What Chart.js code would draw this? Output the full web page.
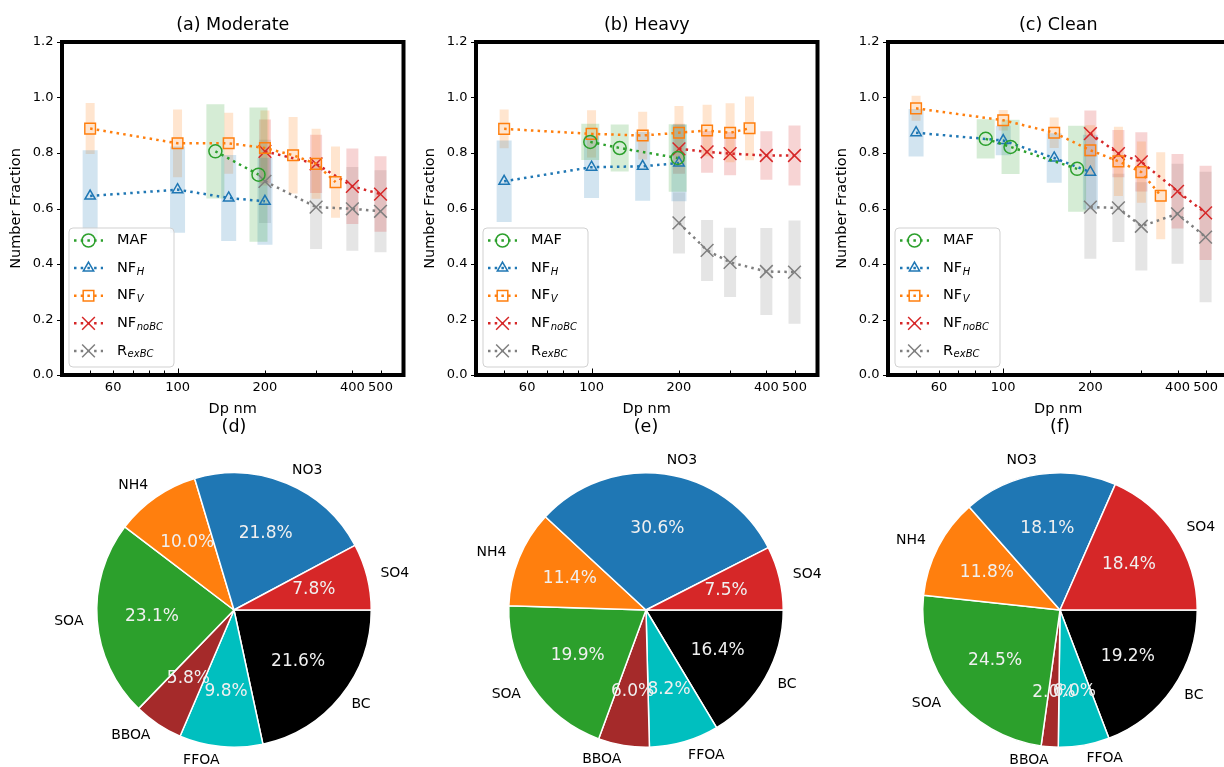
<!DOCTYPE html>
<html><head><meta charset="utf-8">
<script src="https://cdn.jsdelivr.net/npm/chart.js@4.4.1/dist/chart.umd.min.js"></script>
<style>
html,body{margin:0;padding:0;background:#fff;overflow:hidden;width:1224px;height:767px;position:relative}
canvas{position:absolute}
</style></head><body>
<canvas id="ca" width="414" height="418" style="left:0px;top:0px"></canvas>
<canvas id="cb" width="414" height="418" style="left:414px;top:0px"></canvas>
<canvas id="cc" width="413" height="418" style="left:826px;top:0px"></canvas>
<canvas id="pd" width="380" height="357" style="left:44px;top:410px"></canvas>
<canvas id="pe" width="380" height="357" style="left:456px;top:410px"></canvas>
<canvas id="pf" width="380" height="357" style="left:870px;top:410px"></canvas>
<script>
// ---------- axis ticks ----------
const xTickLabels = [60, 100, 200, 400, 500];
const xMinorTicks = [40, 50, 60, 70, 80, 90, 200, 300, 400, 500, 600];
const xMajorTicks = [100];
const yTicks = [0, 0.2, 0.4, 0.6, 0.8, 1.0, 1.2];

// ---------- (a) Moderate ----------
const a_MAF_x = [135, 190];                 const a_MAF_y = [0.806, 0.722];              const a_MAF_e = [0.170, 0.242];
const a_NFH_x = [50, 100, 150, 200];        const a_NFH_y = [0.645, 0.668, 0.638, 0.626]; const a_NFH_e = [0.165, 0.155, 0.155, 0.157];
const a_NFV_x = [50, 100, 150, 200, 250, 300, 350];
const a_NFV_y = [0.888, 0.835, 0.835, 0.818, 0.792, 0.761, 0.695];
const a_NFV_e = [0.092, 0.122, 0.110, 0.135, 0.138, 0.126, 0.128];
const a_NOBC_x = [200, 300, 400, 500];      const a_NOBC_y = [0.806, 0.761, 0.680, 0.652]; const a_NOBC_e = [0.115, 0.105, 0.136, 0.136];
const a_REX_x = [200, 300, 400, 500];       const a_REX_y = [0.698, 0.605, 0.599, 0.590];  const a_REX_e = [0.150, 0.151, 0.151, 0.148];

// ---------- (b) Heavy ----------
const b_MAF_x = [99, 125, 198];             const b_MAF_y = [0.840, 0.818, 0.782];       const b_MAF_e = [0.065, 0.085, 0.122];
const b_NFH_x = [50, 100, 150, 200];        const b_NFH_y = [0.698, 0.749, 0.752, 0.764]; const b_NFH_e = [0.147, 0.111, 0.124, 0.138];
const b_NFV_x = [50, 100, 150, 200, 250, 300, 350];
const b_NFV_y = [0.887, 0.869, 0.863, 0.873, 0.881, 0.873, 0.889];
const b_NFV_e = [0.070, 0.085, 0.086, 0.096, 0.093, 0.106, 0.115];
const b_NOBC_x = [200, 250, 300, 400, 500]; const b_NOBC_y = [0.815, 0.804, 0.798, 0.791, 0.791]; const b_NOBC_e = [0.090, 0.075, 0.078, 0.087, 0.108];
const b_REX_x = [200, 250, 300, 400, 500];  const b_REX_y = [0.548, 0.449, 0.406, 0.373, 0.371];  const b_REX_e = [0.110, 0.110, 0.125, 0.157, 0.186];

// ---------- (c) Clean ----------
const c_MAF_x = [87, 106, 180];             const c_MAF_y = [0.851, 0.822, 0.743];       const c_MAF_e = [0.071, 0.098, 0.155];
const c_NFH_x = [50, 100, 150, 200];        const c_NFH_y = [0.873, 0.845, 0.782, 0.731]; const c_NFH_e = [0.086, 0.053, 0.089, 0.135];
const c_NFV_x = [50, 100, 150, 200, 250, 300, 350];
const c_NFV_y = [0.961, 0.918, 0.873, 0.810, 0.770, 0.731, 0.646];
const c_NFV_e = [0.045, 0.037, 0.055, 0.090, 0.125, 0.110, 0.157];
const c_NOBC_x = [200, 250, 300, 400, 500]; const c_NOBC_y = [0.870, 0.798, 0.768, 0.662, 0.584]; const c_NOBC_e = [0.083, 0.085, 0.107, 0.134, 0.170];
const c_REX_x = [200, 250, 300, 400, 500];  const c_REX_y = [0.605, 0.602, 0.536, 0.581, 0.497];  const c_REX_e = [0.186, 0.123, 0.159, 0.180, 0.235];

// ---------- pies ----------
const pieLabels = ['SO4', 'NO3', 'NH4', 'SOA', 'BBOA', 'FFOA', 'BC'];
const pieD = [7.8, 21.8, 10.0, 23.1, 5.8, 9.8, 21.6];
const pieE = [7.5, 30.6, 11.4, 19.9, 6.0, 8.2, 16.4];
const pieF = [18.4, 18.1, 11.8, 24.5, 2.0, 6.0, 19.2];
const pieColors = ['#d62728', '#1f77b4', '#ff7f0e', '#2ca02c', '#a52a2a', '#00bfbf', '#000000'];

// ---------- styles ----------
const SERIES = ['MAF', 'NFH', 'NFV', 'NOBC', 'REX'];
const STYLE = {
  MAF:  {color:'#2ca02c', band:'rgba(44,160,44,0.2)',   point:'circle',   radius:6.5, bar:18},
  NFH:  {color:'#1f77b4', band:'rgba(31,119,180,0.2)',  point:'triangle', radius:6,   bar:15},
  NFV:  {color:'#ff7f0e', band:'rgba(255,127,14,0.2)',  point:'rect',     radius:7.5, bar:9},
  NOBC: {color:'#d62728', band:'rgba(214,39,40,0.2)',   point:'crossRot', radius:9,   bar:12},
  REX:  {color:'#7f7f7f', band:'rgba(127,127,127,0.2)', point:'crossRot', radius:9,   bar:12}
};
const LEGEND_TEXT = {MAF:['MAF',''], NFH:['NF','H'], NFV:['NF','V'], NOBC:['NF','noBC'], REX:['R','exBC']};
const DASH = [2.5, 4.2];
const FONT = '"DejaVu Sans", sans-serif';

Chart.defaults.font.family = FONT;
Chart.defaults.color = '#000';

const PANEL_A = {MAF:[a_MAF_x,a_MAF_y,a_MAF_e], NFH:[a_NFH_x,a_NFH_y,a_NFH_e], NFV:[a_NFV_x,a_NFV_y,a_NFV_e], NOBC:[a_NOBC_x,a_NOBC_y,a_NOBC_e], REX:[a_REX_x,a_REX_y,a_REX_e]};
const PANEL_B = {MAF:[b_MAF_x,b_MAF_y,b_MAF_e], NFH:[b_NFH_x,b_NFH_y,b_NFH_e], NFV:[b_NFV_x,b_NFV_y,b_NFV_e], NOBC:[b_NOBC_x,b_NOBC_y,b_NOBC_e], REX:[b_REX_x,b_REX_y,b_REX_e]};
const PANEL_C = {MAF:[c_MAF_x,c_MAF_y,c_MAF_e], NFH:[c_NFH_x,c_NFH_y,c_NFH_e], NFV:[c_NFV_x,c_NFV_y,c_NFV_e], NOBC:[c_NOBC_x,c_NOBC_y,c_NOBC_e], REX:[c_REX_x,c_REX_y,c_REX_e]};

function buildDatasets(P) {
  const ds = [];
  SERIES.forEach(k => {
    const [xs, ys] = P[k]; const st = STYLE[k];
    ds.push({
      label: k, data: xs.map((x, i) => ({x: x, y: ys[i]})),
      borderColor: st.color, borderWidth: 2.5, borderDash: DASH, borderCapStyle: 'butt',
      backgroundColor: 'rgba(0,0,0,0)', fill: false,
      pointStyle: st.point, pointRadius: st.radius, pointBorderWidth: 1.5,
      pointBorderColor: st.color, pointBackgroundColor: 'rgba(0,0,0,0)', order: 1
    });
  });
  SERIES.forEach(k => {
    const [xs, ys, es] = P[k]; const st = STYLE[k];
    const pts = [];
    xs.forEach((x, i) => { pts.push({x: x, y: ys[i] - es[i]}, {x: x, y: ys[i] + es[i]}, {x: x, y: null}); });
    ds.push({
      label: k + ' range', data: pts, borderColor: st.band, borderWidth: st.bar,
      borderCapStyle: 'butt', pointRadius: 0, spanGaps: false, fill: false, order: 5
    });
  });
  return ds;
}

function line(ctx, x1, y1, x2, y2) { ctx.beginPath(); ctx.moveTo(x1, y1); ctx.lineTo(x2, y2); ctx.stroke(); }

const framePlugin = {
  id: 'frame',
  afterDatasetsDraw(chart) {
    const ctx = chart.ctx, a = chart.chartArea, xs = chart.scales.x, ys = chart.scales.y;
    ctx.save();
    ctx.strokeStyle = '#000'; ctx.lineWidth = 1;
    yTicks.forEach(v => { const py = Math.round(ys.getPixelForValue(v)) + 0.5; line(ctx, a.left - 5, py, a.left, py); });
    xMinorTicks.forEach(v => { const px = Math.round(xs.getPixelForValue(v)) + 0.5; line(ctx, px, a.bottom, px, a.bottom - 4.5); });
    xMajorTicks.forEach(v => { const px = Math.round(xs.getPixelForValue(v)) + 0.5; line(ctx, px, a.bottom, px, a.bottom - 6.5); });
    ctx.lineWidth = 4;
    ctx.strokeRect(a.left, a.top, a.right - a.left, a.bottom - a.top);
    ctx.restore();
  },
  afterDraw(chart) {
    const ctx = chart.ctx, a = chart.chartArea;
    const bw = 105, bh = 139, bx = a.left + 7, by = a.bottom - 8 - bh;
    ctx.save();
    const r = 4;
    ctx.beginPath();
    ctx.moveTo(bx + r, by); ctx.lineTo(bx + bw - r, by); ctx.quadraticCurveTo(bx + bw, by, bx + bw, by + r);
    ctx.lineTo(bx + bw, by + bh - r); ctx.quadraticCurveTo(bx + bw, by + bh, bx + bw - r, by + bh);
    ctx.lineTo(bx + r, by + bh); ctx.quadraticCurveTo(bx, by + bh, bx, by + bh - r);
    ctx.lineTo(bx, by + r); ctx.quadraticCurveTo(bx, by, bx + r, by); ctx.closePath();
    ctx.fillStyle = 'rgba(255,255,255,0.8)'; ctx.fill();
    ctx.strokeStyle = 'rgba(204,204,204,0.9)'; ctx.lineWidth = 1; ctx.stroke();
    SERIES.forEach((k, i) => {
      const st = STYLE[k]; const ry = by + 12.5 + i * 27.6;
      ctx.setLineDash(DASH); ctx.lineWidth = 2.5; ctx.strokeStyle = st.color; ctx.lineCap = 'butt';
      line(ctx, bx + 5, ry, bx + 34, ry);
      ctx.setLineDash([]);
      ctx.lineWidth = 1.5; ctx.fillStyle = 'rgba(0,0,0,0)';
      Chart.helpers.drawPoint(ctx, {pointStyle: st.point, radius: st.radius, borderWidth: 1.5, rotation: 0}, bx + 19.5, ry);
      const [main, sub] = LEGEND_TEXT[k];
      ctx.fillStyle = '#000'; ctx.textBaseline = 'middle'; ctx.textAlign = 'left';
      ctx.font = '14.5px ' + FONT;
      ctx.fillText(main, bx + 48, ry);
      if (sub) {
        const w = ctx.measureText(main).width;
        ctx.font = 'italic 10px ' + FONT;
        ctx.fillText(sub, bx + 48 + w + 0.5, ry + 4);
      }
    });
    ctx.restore();
  }
};

function makeLine(id, title, P, padRight) {
  new Chart(document.getElementById(id), {
    type: 'line',
    data: {datasets: buildDatasets(P)},
    options: {
      responsive: false, animation: false, events: [],
      layout: {padding: {left: 0, right: padRight, top: 0, bottom: 0}},
      scales: {
        x: {
          type: 'logarithmic', min: 40, max: 600,
          afterBuildTicks(s) { s.ticks = xMinorTicks.concat(xMajorTicks).sort((p, q) => p - q).map(v => ({value: v})); },
          afterFit(s) { s.height = 43; },
          grid: {display: false, drawTicks: false}, border: {display: false},
          ticks: {autoSkip: false, maxRotation: 0, minRotation: 0, padding: 5, font: {size: 13}, color: '#000',
                  callback: (v) => xTickLabels.includes(v) ? String(v) : ''},
          title: {display: true, text: 'Dp nm', font: {size: 14.5}, color: '#000', padding: 0}
        },
        y: {
          min: 0, max: 1.2,
          afterBuildTicks(s) { s.ticks = yTicks.map(v => ({value: v})); },
          afterFit(s) { s.width = 62; },
          grid: {display: false, drawTicks: false}, border: {display: false},
          ticks: {padding: 8.5, font: {size: 13}, color: '#000', callback: (v) => Number(v).toFixed(1)},
          title: {display: true, text: 'Number Fraction', font: {size: 14.5}, color: '#000', padding: {top: 8, bottom: 0}}
        }
      },
      plugins: {
        legend: {display: false}, tooltip: {enabled: false},
        title: {display: true, text: title, fullSize: false, font: {size: 17.5, weight: 'normal'}, color: '#000', padding: {top: 15, bottom: 6}}
      }
    },
    plugins: [framePlugin]
  });
}

const pieTextPlugin = {
  id: 'pieText',
  afterDatasetsDraw(chart) {
    const meta = chart.getDatasetMeta(0);
    const vals = chart.data.datasets[0].data;
    const total = vals.reduce((s, v) => s + v, 0);
    const ctx = chart.ctx;
    ctx.save(); ctx.textBaseline = 'middle';
    meta.data.forEach((arc, i) => {
      const p = arc.getProps(['x', 'y', 'startAngle', 'endAngle', 'outerRadius'], true);
      const m = (p.startAngle + p.endAngle) / 2, c = Math.cos(m), s = Math.sin(m), R = p.outerRadius;
      ctx.font = '14px ' + FONT; ctx.fillStyle = '#000'; ctx.textAlign = c > 0 ? 'left' : 'right';
      ctx.fillText(chart.data.labels[i], p.x + 1.1 * R * c, p.y + 1.1 * R * s);
      ctx.font = '17px ' + FONT; ctx.fillStyle = '#f0f0f0'; ctx.textAlign = 'center';
      ctx.fillText((vals[i] / total * 100).toFixed(1) + '%', p.x + 0.6 * R * c, p.y + 0.6 * R * s);
    });
    ctx.restore();
  }
};

function makePie(id, title, vals) {
  // matplotlib draws counter-clockwise from 3 o'clock; Chart.js draws clockwise, so reverse order
  const labels = pieLabels.slice().reverse();
  const data = vals.slice().reverse();
  const colors = pieColors.slice().reverse();
  new Chart(document.getElementById(id), {
    type: 'pie',
    data: {labels: labels, datasets: [{data: data, backgroundColor: colors, borderColor: '#ffffff', borderWidth: 1.5, hoverOffset: 0, offset: 0}]},
    options: {
      responsive: false, animation: false, events: [], rotation: 90,
      layout: {padding: {left: 52, right: 52, top: 0, bottom: 19}},
      plugins: {
        legend: {display: false}, tooltip: {enabled: false},
        title: {display: true, text: title, font: {size: 17.5, weight: 'normal'}, color: '#000', padding: {top: 6.5, bottom: 34.5}}
      }
    },
    plugins: [pieTextPlugin]
  });
}

makeLine('ca', '(a) Moderate', PANEL_A, 7);
makeLine('cb', '(b) Heavy', PANEL_B, 10);
makeLine('cc', '(c) Clean', PANEL_C, 7);
makePie('pd', '(d)', pieD);
makePie('pe', '(e)', pieE);
makePie('pf', '(f)', pieF);
</script>
</body></html>
